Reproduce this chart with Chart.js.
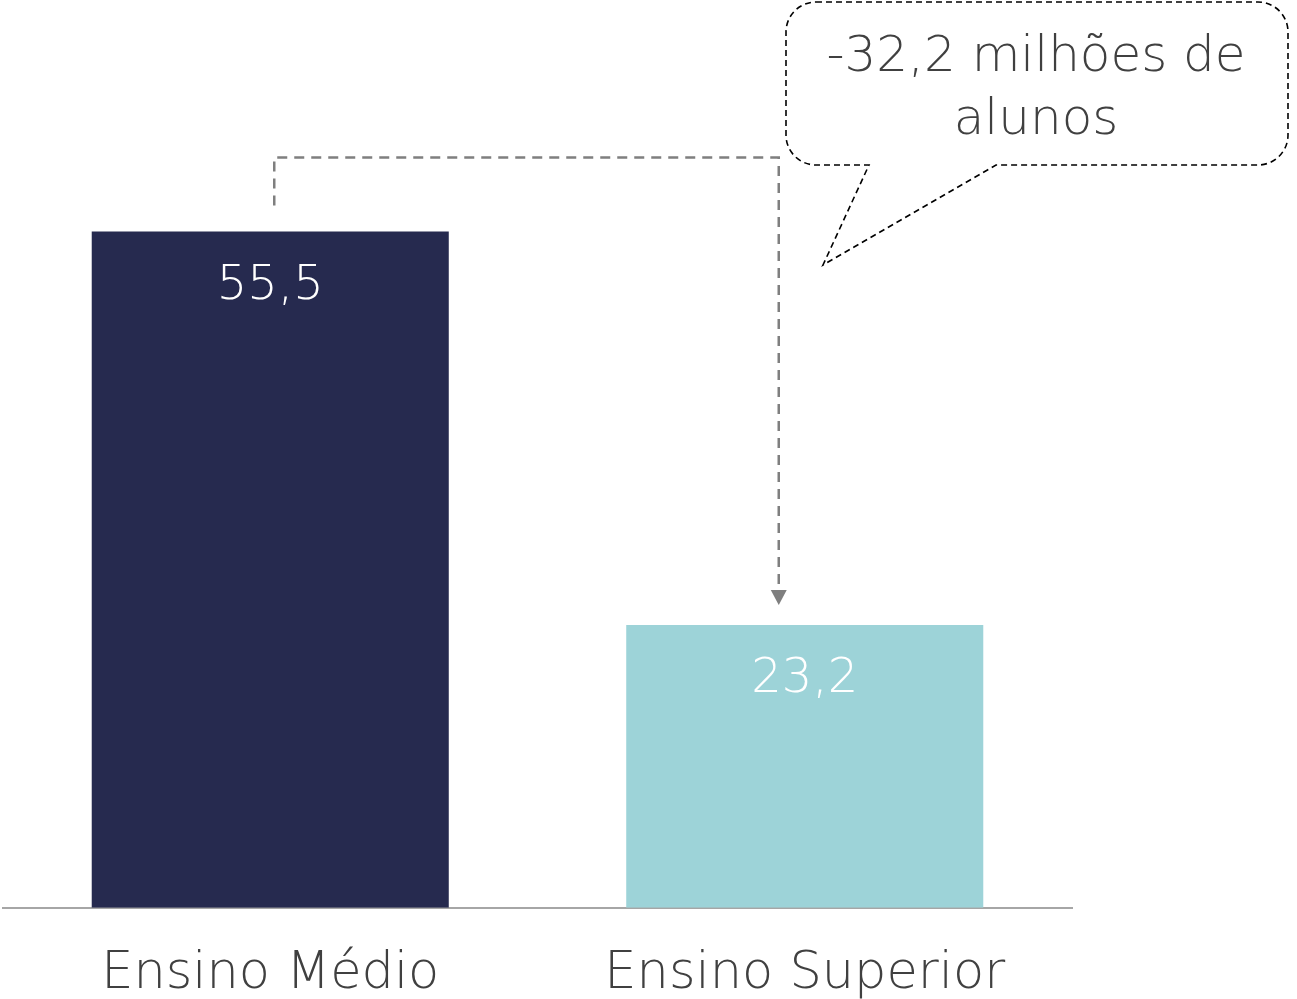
<!DOCTYPE html>
<html>
<head>
<meta charset="utf-8">
<script src="https://cdn.jsdelivr.net/npm/chart.js@4"></script>
<style>
  html, body { margin: 0; padding: 0; background: #fff; overflow: hidden; }
  #wrap { width: 1297px; height: 999px; overflow: hidden; }
</style>
</head>
<body>
<div id="wrap"><canvas id="chart" width="1297" height="1041"></canvas></div>
<script>
const categories = ['Ensino Médio', 'Ensino Superior'];
const values = [55.5, 23.2];
const barColors = ['#262a4f', '#9dd3d8'];
const calloutLines = ['-32,2 milhões de', 'alunos'];

const FONT = '"DejaVu Sans", sans-serif';

// rotulos dentro das barras
const valueLabels = {
    id: 'valueLabels',
    afterDatasetsDraw(chart) {
        const ctx = chart.ctx;
        const meta = chart.getDatasetMeta(0);
        ctx.save();
        ctx.fillStyle = '#ffffff';
        ctx.font = '300 48px ' + FONT;
        ctx.textAlign = 'center';
        ctx.textBaseline = 'alphabetic';
        meta.data.forEach((bar, i) => {
            ctx.fillText(values[i].toFixed(1).replace('.', ','), bar.x, bar.y + 67);
        });
        ctx.restore();
    }
};

// seta tracejada + balão
const annotation = {
    id: 'annotation',
    afterDraw(chart) {
        const ctx = chart.ctx;
        const meta = chart.getDatasetMeta(0);
        const b1 = meta.data[0], b2 = meta.data[1];
        const x1 = b1.x + 4, x2 = b2.x - 26;
        const yTop = b1.y - 74;
        const yEnd = b2.y - 20;

        ctx.save();
        ctx.strokeStyle = '#7f7f7f';
        ctx.lineWidth = 2.5;
        ctx.setLineDash([10, 7]);
        ctx.beginPath();
        ctx.moveTo(x1, b1.y - 26);
        ctx.lineTo(x1, yTop);
        ctx.lineTo(x2, yTop);
        ctx.lineTo(x2, yEnd - 12);
        ctx.stroke();
        ctx.setLineDash([]);
        ctx.fillStyle = '#7f7f7f';
        ctx.beginPath();
        ctx.moveTo(x2 - 8, yEnd - 15);
        ctx.lineTo(x2 + 8, yEnd - 15);
        ctx.lineTo(x2, yEnd);
        ctx.closePath();
        ctx.fill();

        // balão
        const L = 786, R = 1288, T = 2, B = 165, r = 30;
        ctx.strokeStyle = '#000000';
        ctx.lineWidth = 1.6;
        ctx.setLineDash([6, 4]);
        ctx.beginPath();
        ctx.moveTo(L + r, T);
        ctx.lineTo(R - r, T);
        ctx.arcTo(R, T, R, T + r, r);
        ctx.lineTo(R, B - r);
        ctx.arcTo(R, B, R - r, B, r);
        ctx.lineTo(996, B);
        ctx.lineTo(823, 265);
        ctx.lineTo(869, B);
        ctx.lineTo(L + r, B);
        ctx.arcTo(L, B, L, B - r, r);
        ctx.lineTo(L, T + r);
        ctx.arcTo(L, T, L + r, T, r);
        ctx.stroke();

        ctx.setLineDash([]);
        ctx.fillStyle = '#404040';
        ctx.font = '300 50px ' + FONT;
        ctx.textAlign = 'center';
        ctx.textBaseline = 'alphabetic';
        ctx.fillText(calloutLines[0], 1036, 71);
        ctx.fillText(calloutLines[1], 1036, 134);
        ctx.restore();
    }
};

new Chart(document.getElementById('chart'), {
    type: 'bar',
    data: {
        labels: categories,
        datasets: [{
            data: values,
            backgroundColor: barColors,
            borderWidth: 0,
            categoryPercentage: 1,
            barPercentage: 0.668
        }]
    },
    options: {
        responsive: false,
        animation: false,
        devicePixelRatio: 1,
        layout: { padding: { left: 3, right: 225, top: 0, bottom: 0 } },
        plugins: {
            legend: { display: false },
            tooltip: { enabled: false }
        },
        scales: {
            x: {
                grid: { display: false, drawTicks: false },
                border: { display: true, color: '#a6a6a6', width: 2 },
                ticks: {
                    color: '#404040',
                    padding: 36,
                    font: { family: FONT, size: 51, weight: 300 }
                }
            },
            y: {
                display: false,
                min: 0,
                max: 74.5
            }
        }
    },
    plugins: [valueLabels, annotation]
});
</script>
</body>
</html>
